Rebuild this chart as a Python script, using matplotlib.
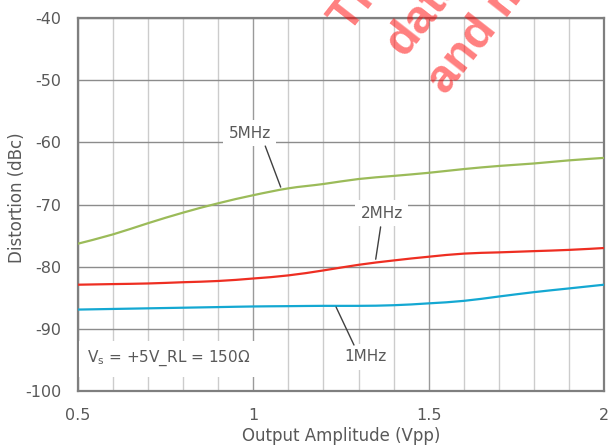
import matplotlib.pyplot as plt
import numpy as np
from matplotlib.ticker import MultipleLocator
from matplotlib.path import Path
from matplotlib.patches import PathPatch

# 读自参考图的数据
amp = [0.5, 0.6, 0.7, 0.8, 0.9, 1.0, 1.1, 1.2, 1.3, 1.4, 1.5, 1.6, 1.7, 1.8, 1.9, 2.0]
d_5mhz = [-76.3, -74.8, -73.0, -71.3, -69.8, -68.5, -67.4, -66.7, -65.9, -65.4,
          -64.9, -64.3, -63.8, -63.4, -62.9, -62.5]
d_2mhz = [-82.9, -82.8, -82.7, -82.5, -82.3, -81.9, -81.4, -80.6, -79.7, -79.0,
          -78.4, -77.9, -77.7, -77.5, -77.3, -77.0]
d_1mhz = [-86.9, -86.8, -86.7, -86.6, -86.5, -86.4, -86.35, -86.3, -86.3, -86.2,
          -85.9, -85.5, -84.8, -84.1, -83.5, -82.9]

x_ticks = [0.5, 1, 1.5, 2]
x_tick_labels = ['0.5', '1', '1.5', '2']
y_ticks = [-100, -90, -80, -70, -60, -50, -40]

txt_col = '#595959'
plt.rcParams['font.family'] = ['DejaVu Sans']
plt.rcParams['mathtext.fontset'] = 'dejavusans'
plt.rcParams['axes.unicode_minus'] = False


def smooth_line(ax, x, y, color):
    """平滑曲线（类似 Excel 的平滑线），用 Bezier 段穿过每个数据点"""
    x = np.asarray(x, float)
    y = np.asarray(y, float)
    verts = [(x[0], y[0])]
    codes = [Path.MOVETO]
    n = len(x)
    for i in range(n - 1):
        x0, y0 = (x[i - 1], y[i - 1]) if i > 0 else (x[i], y[i])
        x3, y3 = (x[i + 2], y[i + 2]) if i + 2 < n else (x[i + 1], y[i + 1])
        c1 = (x[i] + (x[i + 1] - x0) / 6, y[i] + (y[i + 1] - y0) / 6)
        c2 = (x[i + 1] - (x3 - x[i]) / 6, y[i + 1] - (y3 - y[i]) / 6)
        verts += [c1, c2, (x[i + 1], y[i + 1])]
        codes += [Path.CURVE4] * 3
    ax.add_patch(PathPatch(Path(verts, codes), fill=False, edgecolor=color,
                           lw=1.6, zorder=3, capstyle='round'))


fig = plt.figure(figsize=(6.08, 4.48), dpi=100)
ax = fig.add_axes([0.1283, 0.1272, 0.8651, 0.8326])

smooth_line(ax, amp, d_5mhz, '#9bbb59')
smooth_line(ax, amp, d_2mhz, '#ee2e22')
smooth_line(ax, amp, d_1mhz, '#14a8d2')

ax.set_xlim(0.5, 2)
ax.set_ylim(-100, -40)
ax.set_xticks(x_ticks)
ax.set_xticklabels(x_tick_labels)
ax.xaxis.set_minor_locator(MultipleLocator(0.1))
ax.set_yticks(y_ticks)
ax.tick_params(which='both', length=0, labelsize=11.5, labelcolor=txt_col)
ax.tick_params(axis='y', pad=12)
ax.tick_params(axis='x', pad=12)
ax.grid(which='minor', axis='x', color='#cccccc', lw=1)
ax.grid(which='major', axis='x', color='#9a9a9a', lw=1)
ax.grid(which='major', axis='y', color='#8c8c8c', lw=1)
ax.set_axisbelow(True)
for s in ax.spines.values():
    s.set_color('#7f7f7f')
    s.set_linewidth(1.6)

ax.set_xlabel('Output Amplitude (Vpp)', fontsize=12, color=txt_col, labelpad=3)
ax.set_ylabel('Distortion (dBc)', fontsize=12, color=txt_col, va='center')
ax.yaxis.set_label_coords(-0.116, 0.519)

box = dict(facecolor='white', edgecolor='none', pad=4)
ann = dict(arrowstyle='-', color='#404040', lw=1, shrinkA=0, shrinkB=0)
ax.text(0.99, -58.5, '5MHz', ha='center', va='center', fontsize=11, color=txt_col, bbox=box, zorder=4)
ax.annotate('', xy=(1.078, -67.2), xytext=(1.034, -60.6), arrowprops=ann, zorder=4)
ax.text(1.366, -71.4, '2MHz', ha='center', va='center', fontsize=11, color=txt_col, bbox=box, zorder=4)
ax.annotate('', xy=(1.349, -78.8), xytext=(1.363, -73.6), arrowprops=ann, zorder=4)
ax.text(1.321, -94.5, '1MHz', ha='center', va='center', fontsize=11, color=txt_col, bbox=box, zorder=4)
ax.annotate('', xy=(1.236, -86.5), xytext=(1.287, -92.6), arrowprops=ann, zorder=4)

ax.text(0.526, -94.8, r'V$_{\mathregular{s}}$ = +5V_RL = 150Ω', ha='left', va='center',
        fontsize=11, color=txt_col, bbox=dict(facecolor='white', edgecolor='none', pad=6), zorder=4)

# 水印
wm = dict(color='red', alpha=0.5, fontsize=34, fontweight='bold', family='Liberation Sans',
          rotation=52, rotation_mode='anchor', ha='left', va='baseline', zorder=10)
fig.text(349 / 608, 1 - 34 / 448, 'This is a preview', **wm)
fig.text(404 / 608, 1 - 58 / 448, 'datasheet', **wm)
fig.text(446 / 608, 1 - 96 / 448, 'and may', **wm)

fig.savefig('out.png', dpi=100)
